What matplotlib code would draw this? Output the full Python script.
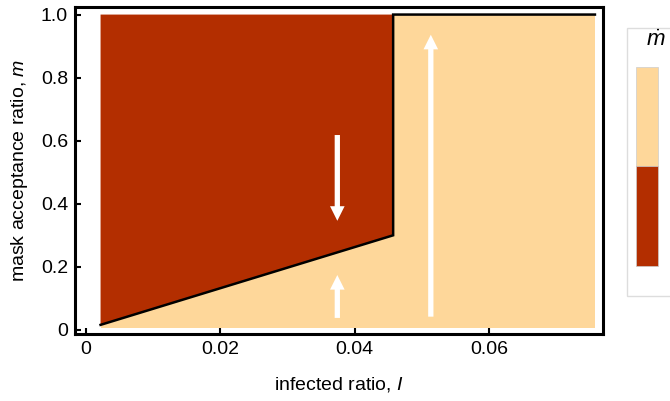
import matplotlib
matplotlib.use("Agg")
import matplotlib.pyplot as plt
from matplotlib.patches import Rectangle, Polygon

plt.rcParams['font.family'] = ['Liberation Sans', 'DejaVu Sans']
plt.rcParams['mathtext.fontset'] = 'custom'
plt.rcParams['mathtext.it'] = 'Liberation Sans:italic'
plt.rcParams['mathtext.rm'] = 'Liberation Sans'

# Domain of the phase plane
I_range = [0.0022, 0.0757]
m_range = [0.005, 1.0]

# Nullcline separating decreasing (dark) from increasing (light) mask uptake
I_boundary = [0.0022, 0.0457, 0.0457, 0.0757]
m_boundary = [0.016, 0.30, 1.0, 1.0]

# Flow direction arrows: (I, m_start, m_end)
flow_arrows = [
    (0.0374, 0.618, 0.346),
    (0.0374, 0.038, 0.174),
    (0.0513, 0.042, 0.936),
]

x_ticks = [0, 0.02, 0.04, 0.06]
x_ticklabels = ["0", "0.02", "0.04", "0.06"]
y_ticks = [0, 0.2, 0.4, 0.6, 0.8, 1.0]
y_ticklabels = ["0", "0.2", "0.4", "0.6", "0.8", "1.0"]

dark = "#B32E00"
light = "#FED79A"
fs = 14

fig = plt.figure(figsize=(6.70, 4.01), dpi=100)
ax = fig.add_axes([75 / 670, 1 - 334 / 401, (603 - 75) / 670, (334 - 7) / 401])

# Light region: whole domain
ax.add_patch(Rectangle((I_range[0], m_range[0]), I_range[1] - I_range[0],
                       m_range[1] - m_range[0], facecolor=light, edgecolor='none'))
# Dark region: above the nullcline
dark_poly = [(I_boundary[0], m_boundary[0]), (I_boundary[1], m_boundary[1]),
             (I_boundary[2], m_boundary[2]), (I_range[0], m_range[1])]
ax.add_patch(Polygon(dark_poly, closed=True, facecolor=dark, edgecolor='none'))

ax.plot(I_boundary, m_boundary, color='black', lw=1.8, solid_joinstyle='miter')

for I, m0, m1 in flow_arrows:
    ax.annotate('', xy=(I, m1), xytext=(I, m0),
                arrowprops=dict(facecolor='white', edgecolor='none',
                                width=3.8, headwidth=10.5, headlength=10.5, shrink=0))

ax.set_xlim(-0.0016, 0.0769)
ax.set_ylim(-0.013, 1.024)
ax.set_xticks(x_ticks)
ax.set_xticklabels(x_ticklabels)
ax.set_yticks(y_ticks)
ax.set_yticklabels(y_ticklabels)
ax.tick_params(direction='in', length=4, width=1.5, labelsize=fs, pad=5)
for s in ax.spines.values():
    s.set_linewidth(2.2)

ax.set_xlabel("infected ratio, $\\mathit{I}$", fontsize=fs, labelpad=12)
ax.set_ylabel("mask acceptance ratio, $\\mathit{m}$", fontsize=fs, labelpad=8)

# Legend box with colour swatches
fig.patches.append(Rectangle((627 / 670, 1 - 296 / 401), 60 / 670, (296 - 28) / 401,
                             transform=fig.transFigure, facecolor='white',
                             edgecolor='#DDDDDD', lw=1))
fig.patches.append(Rectangle((636 / 670, 1 - 166 / 401), 22 / 670, (166 - 67) / 401,
                             transform=fig.transFigure, facecolor=light,
                             edgecolor='#CCCCCC', lw=0.5))
fig.patches.append(Rectangle((636 / 670, 1 - 266 / 401), 22 / 670, (266 - 166) / 401,
                             transform=fig.transFigure, facecolor=dark,
                             edgecolor='#CCCCCC', lw=0.5))
fig.text(656 / 670, 1 - 41 / 401, "$\\dot{m}$", fontsize=16, ha='center', va='center')

fig.savefig("out.png", dpi=100)
